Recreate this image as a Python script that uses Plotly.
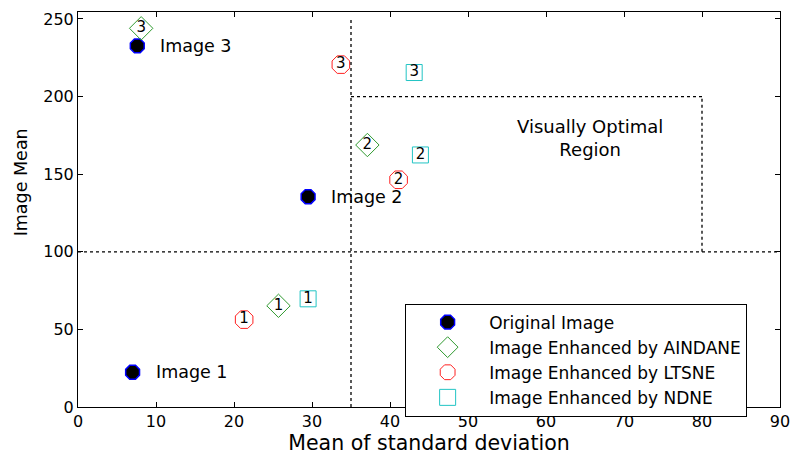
import plotly.graph_objects as go

# Data
orig_x = [7.0, 29.5, 7.6]
orig_y = [22.4, 135.5, 232.7]
orig_labels = ["Image 1", "Image 2", "Image 3"]

aindane_x = [25.7, 37.1, 8.1]
aindane_y = [65.2, 168.8, 244.0]

ltsne_x = [21.3, 41.1, 33.7]
ltsne_y = [56.3, 146.4, 220.6]

ndne_x = [29.5, 43.9, 43.1]
ndne_y = [69.7, 162.4, 215.5]

nums = ["1", "2", "3"]

x_ticks = [0, 10, 20, 30, 40, 50, 60, 70, 80, 90]
y_ticks = [0, 50, 100, 150, 200, 250]

FONT = "DejaVu Sans, Arial, sans-serif"

fig = go.Figure()

fig.add_trace(go.Scatter(
    x=orig_x, y=orig_y, mode="markers", name="Original Image",
    marker=dict(symbol="octagon", size=15, color="black",
                line=dict(color="blue", width=1.5)),
))
fig.add_trace(go.Scatter(
    x=aindane_x, y=aindane_y, mode="markers+text", name="Image Enhanced by AINDANE",
    text=nums, textposition="middle center",
    textfont=dict(family=FONT, size=15, color="black"),
    marker=dict(symbol="diamond-open", size=18, color="#2f9a2f",
                line=dict(color="#2f9a2f", width=1)),
))
fig.add_trace(go.Scatter(
    x=ltsne_x, y=ltsne_y, mode="markers+text", name="Image Enhanced by LTSNE",
    text=nums, textposition="middle center",
    textfont=dict(family=FONT, size=15, color="black"),
    marker=dict(symbol="octagon-open", size=19, color="#ff2020",
                line=dict(color="#ff2020", width=1)),
))
fig.add_trace(go.Scatter(
    x=ndne_x, y=ndne_y, mode="markers+text", name="Image Enhanced by NDNE",
    text=nums, textposition="middle center",
    textfont=dict(family=FONT, size=15, color="black"),
    marker=dict(symbol="square-open", size=16, color="#22c4c4",
                line=dict(color="#22c4c4", width=1)),
))

# Image labels
for xv, yv, lab in zip(orig_x, orig_y, orig_labels):
    fig.add_annotation(x=xv, y=yv, text=lab, showarrow=False,
                       xanchor="left", yanchor="middle", xshift=21,
                       font=dict(family=FONT, size=17.5, color="black"))

# Dotted reference lines
dot = dict(color="black", width=1.3, dash="dot")
fig.add_shape(type="line", x0=35, x1=35, y0=0, y1=250, line=dot)
fig.add_shape(type="line", x0=0, x1=90, y0=100, y1=100, line=dot)
fig.add_shape(type="line", x0=35, x1=80, y0=200, y1=200, line=dot)
fig.add_shape(type="line", x0=80, x1=80, y0=100, y1=200, line=dot)

fig.add_annotation(x=65.6, y=173, text="Visually Optimal<br>Region", showarrow=False,
                   font=dict(family=FONT, size=18, color="black"), align="center")

# Y axis title as annotation (placed as in reference)
fig.add_annotation(xref="paper", yref="paper", x=-0.0816, y=0.568,
                   text="Image Mean", textangle=-90, showarrow=False,
                   xanchor="center", yanchor="middle",
                   font=dict(family=FONT, size=17.5, color="black"))

axis_common = dict(
    showgrid=False, zeroline=False, showline=True, linecolor="black", linewidth=1,
    mirror="ticks", ticks="inside", ticklen=5, tickcolor="black",
    tickfont=dict(family=FONT, size=16, color="black"),
)

fig.update_xaxes(range=[0, 90], tickvals=x_ticks,
                 title=dict(text="Mean of standard deviation",
                            font=dict(family=FONT, size=20.5, color="black"), standoff=4),
                 **axis_common)
fig.update_yaxes(range=[0, 254.5], tickvals=y_ticks, **axis_common)

fig.update_layout(
    width=800, height=460,
    margin=dict(l=78, r=11, t=10, b=52),
    plot_bgcolor="white", paper_bgcolor="white",
    font=dict(family=FONT, color="black"),
    legend=dict(x=0.466, y=0.262, xanchor="left", yanchor="top",
                bordercolor="black", borderwidth=1, bgcolor="white",
                font=dict(family=FONT, size=17, color="black"),
                itemwidth=73, tracegroupgap=0),
    showlegend=True,
)

fig.write_html("out.html")
